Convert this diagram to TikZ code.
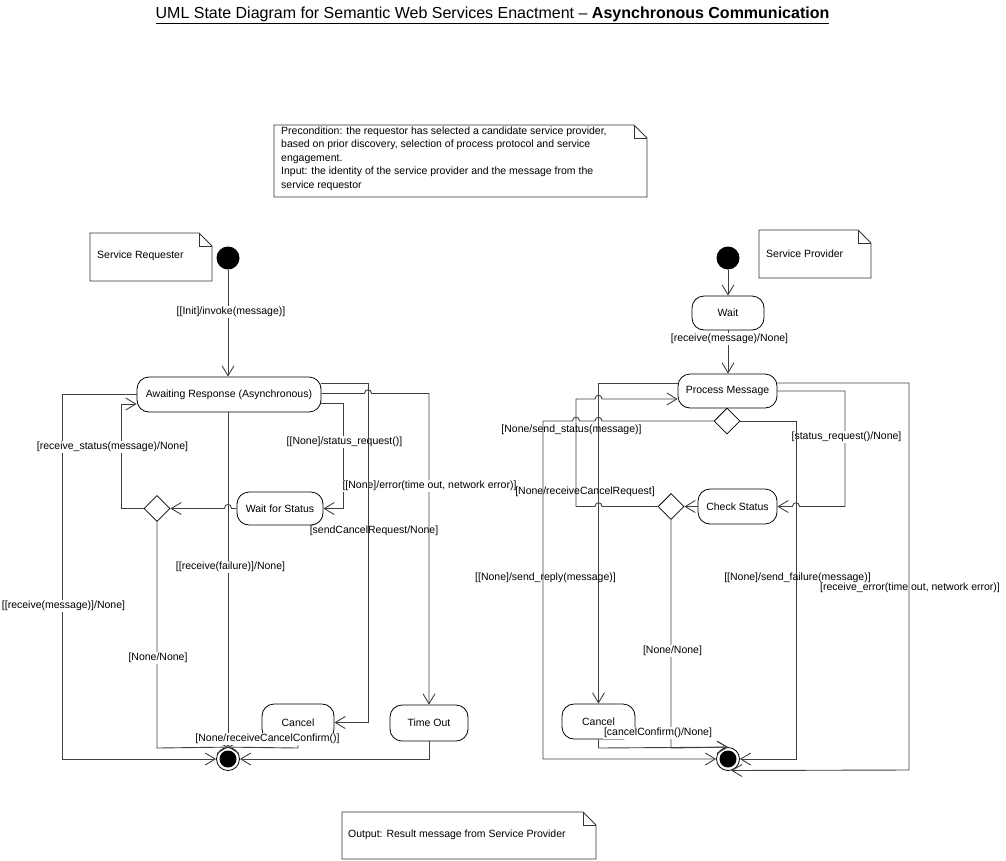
\documentclass[tikz,border=0pt]{standalone}
\usepackage{fontspec}
\setmainfont{Liberation Sans}
\usetikzlibrary{shapes.geometric,arrows.meta,calc}
\newcommand\lblfont{\fontsize{10.5}{13.5}\selectfont}
\newcommand\umlnote[4]{%
  \draw[notebd] (#1,#2) -- ({#3-13},#2) -- (#3,{#2+13}) -- (#3,#4) -- (#1,#4) -- cycle;
  \draw[notebd] ({#3-13},#2) -- ({#3-13},{#2+13}) -- (#3,{#2+13});}
\begin{document}
\begin{tikzpicture}[x=1pt,y=-1pt,
  conn/.style={draw=black!75, line width=0.9pt},
  arr/.style={conn, -{Straight Barb[length=10pt,width=12pt]}},
  stbox/.style={draw=black, line width=0.8pt, rounded corners=12pt, inner sep=0, font=\lblfont, align=center},
  choice/.style={diamond, draw=black, line width=0.8pt, minimum width=26pt, minimum height=26pt, inner sep=0},
  initst/.style={circle, fill=black, minimum size=23pt, inner sep=0},
  finst/.style={circle, draw=black, line width=0.8pt, minimum size=23pt, inner sep=0},
  lbl/.style={font=\lblfont, inner sep=1pt},
  lblw/.style={lbl, fill=white},
  notebd/.style={draw=black!80, line width=0.8pt},
  notetx/.style={font=\lblfont, inner sep=0, align=left, anchor=north west}]
\useasboundingbox (0,0) rectangle (1006,860);

% title
\node[font=\fontsize{16}{19}\selectfont, inner sep=0, anchor=base] (title) at (492.5,18)
  {\underline{UML State Diagram for Semantic Web Services Enactment – \textbf{Asynchronous Communication}}};

% notes
\umlnote{274}{125}{647}{197}
\node[notetx] (pretx) at (281,126.5) {Precondition: the requestor has selected a candidate service provider,\\based on prior discovery, selection of process protocol and service\\engagement.\\Input: the identity of the service provider and the message from the\\service requestor};
\umlnote{90}{233}{212}{281}
\node[lbl, anchor=west] (sreq) at (96,256) {Service Requester};
\umlnote{759}{230}{871}{278}
\node[lbl, anchor=west] (sprov) at (765,254) {Service Provider};
\umlnote{342}{812}{596}{859}
\node[lbl, anchor=west] (outtx) at (347,835) {Output: Result message from Service Provider};

% ---------------- left: service requester ----------------
\node[initst] (iL) at (228,258) {};
\node[stbox, minimum width=184pt, minimum height=35pt] (aw) at (229,394.5) {Awaiting Response (Asynchronous)};
\node[stbox, minimum width=86pt, minimum height=33pt] (wfs) at (280,508.5) {Wait for Status};
\node[choice] (dL) at (157,508.5) {};
\node[stbox, minimum width=72pt, minimum height=37pt] (cL) at (298,722.5) {Cancel};
\node[stbox, minimum width=78pt, minimum height=36pt] (to) at (429,723) {Time Out};
\node[finst] (fL) at (228,759) {};
\fill (fL) circle (8.5pt);

\draw[arr] (iL.south) -- (iL.south |- aw.north);
\draw[arr] (aw.west) -- (62,394.5) -- (62,759) -- (fL.west);
\draw[arr] (dL.west) -- (121,508.5) -- (121,404) -- ($(aw.west)+(0,9.5)$);
\draw[arr] (wfs.west) -- (231.5,508.5) .. controls (231.5,503) and (224.5,503) .. (224.5,508.5) -- (dL.east);
\draw[arr] (fL.north |- aw.south) -- (fL.north);
\draw[arr] (dL.south) -- (157,748) -- (fL.north);
\draw[arr] (cL.south) -- (298,748) -- (fL.north);
\draw[arr] (to.south) -- (429,759) -- (fL.east);
\draw[arr] ($(aw.east)+(0,9)$) -- (343,403.5) -- (343,508.5) -- (wfs.east);
\draw[arr] ($(aw.east)+(0,-1)$) -- (364.5,393.5) .. controls (364.5,388.5) and (371.5,388.5) .. (371.5,393.5) -- (429,393.5) -- (to.north);

\node[lblw] (l1) at (231,312) {[[Init]/invoke(message)]};
\node[lblw] (l2) at (63.5,606) {[[receive(message)]/None]};
\node[lblw] (l3) at (112.5,447) {[receive\_status(message)/None]};
\node[lblw] (l4) at (230.5,567) {[[receive(failure)]/None]};
\node[lblw] (l5) at (158,658) {[None/None]};
\node[lblw] (l6) at (267.5,739) {[None/receiveCancelConfirm()]};
\node[lblw] (l7) at (429.5,486) {[[None]/error(time out, network error)]};
\node[lblw] (l8) at (344.5,442) {[[None]/status\_request()]};

\draw[arr] ($(aw.east)+(0,-11)$) -- (368,383.5) -- (368,722.5) -- (cL.east);
\node[lbl] (l9) at (374,531) {[sendCancelRequest/None]};

% ---------------- right: service provider ----------------
\node[initst] (iR) at (728,258) {};
\node[stbox, minimum width=72pt, minimum height=34pt] (wait) at (728,313) {Wait};
\node[stbox, minimum width=99pt, minimum height=34pt] (pm) at (727.5,391) {Process Message};
\node[choice] (dT) at (727,421) {};
\node[stbox, minimum width=79pt, minimum height=35pt] (cs) at (737.5,506.5) {Check Status};
\node[choice] (dM) at (671,506.5) {};
\node[stbox, minimum width=73pt, minimum height=35pt] (cR) at (598.5,721.5) {Cancel};
\node[finst] (fR) at (728,759) {};
\fill (fR) circle (8.5pt);

\draw[arr] (iR.south) -- (wait.north);
\draw[arr] (wait.south) -- (wait.south |- pm.north);
\draw[arr] (pm.east) -- (845,391) -- (845,506.5) -- (799.5,506.5) .. controls (799.5,501.5) and (792.5,501.5) .. (792.5,506.5) -- (cs.east);
\draw[arr] ($(pm.east)+(0,-8)$) -- (909,383) -- (909,770) -- (fR.-75);
\draw[arr] ($(pm.west)+(0,-8)$) -- (598.5,383) -- (cR.north);
\draw[arr] (dM.west) -- (602,506.5) .. controls (602,501.5) and (595,501.5) .. (595,506.5) -- (576,506.5) -- (576,399)
  -- (595,399) .. controls (595,394) and (602,394) .. (602,399) -- ($(pm.west)+(0,8)$);
\draw[arr] (dT.west) -- (602,421) .. controls (602,416) and (595,416) .. (595,421) -- (579.5,421)
  .. controls (579.5,416) and (572.5,416) .. (572.5,421) -- (543,421) -- (543,759) -- (fR.west);
\draw[arr] (cs.west) -- (dM.east);
\draw[arr] (dM.south) -- (671,748) -- (fR.north);
\draw[arr] (cR.south) -- (598.5,748) -- (fR.north);

\node[lblw] (r1) at (729.5,339) {[receive(message)/None]};
\node[lblw] (r2) at (846.5,437) {[status\_request()/None]};
\node[lblw] (r3) at (672.5,651) {[None/None]};
\node[lblw] (r4) at (658,733) {[cancelConfirm()/None]};

\draw[arr] (dT.east) -- (796,421) -- (796,759) -- (fR.east);

\node[lbl] (r5) at (797.5,578) {[[None]/send\_failure(message)]};
\node[lbl] (r6) at (910,588) {[receive\_error(time out, network error)]};
\node[lbl] (r7) at (585,492) {[None/receiveCancelRequest]};
\node[lbl] (r8) at (571.5,430) {[None/send\_status(message)]};
\node[lbl] (r9) at (545.5,578) {[[None]/send\_reply(message)]};
\end{tikzpicture}
\end{document}
